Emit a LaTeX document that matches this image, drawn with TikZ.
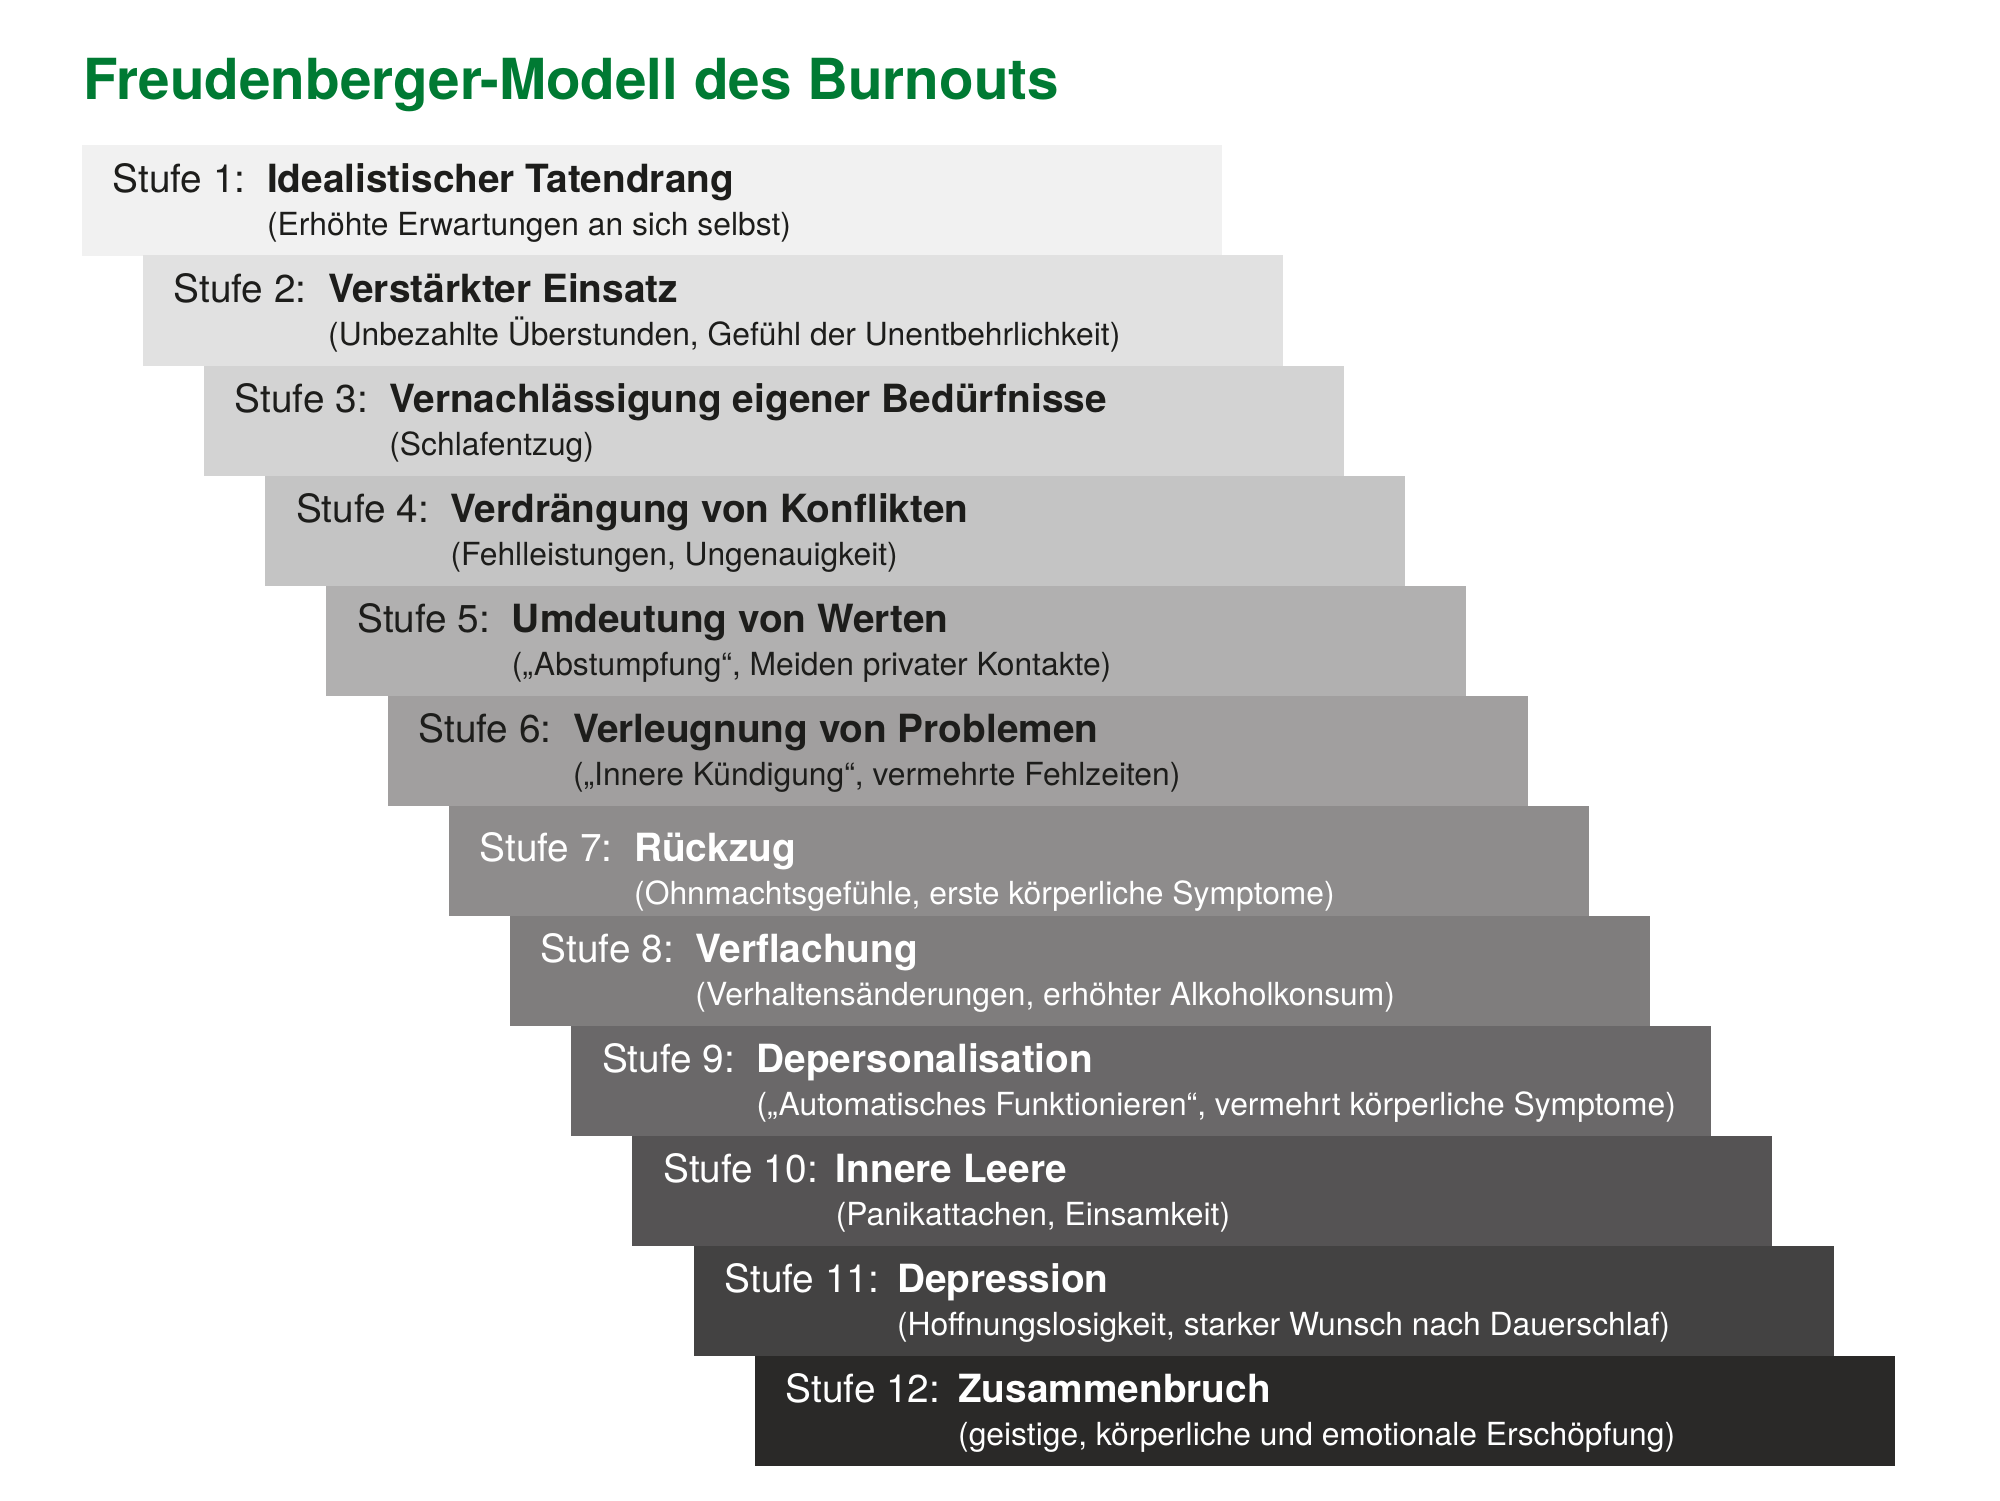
\documentclass[tikz,border=0pt]{standalone}
\usepackage{fontspec}
\setmainfont{TeX Gyre Heros}
\definecolor{titlegreen}{HTML}{007A33}
\definecolor{darktext}{HTML}{1D1D1B}
\definecolor{g1}{HTML}{F1F1F1}
\definecolor{g2}{HTML}{E1E1E1}
\definecolor{g3}{HTML}{D3D3D3}
\definecolor{g4}{HTML}{C4C4C4}
\definecolor{g5}{HTML}{B1B0B0}
\definecolor{g6}{HTML}{A19F9F}
\definecolor{g7}{HTML}{8E8C8C}
\definecolor{g8}{HTML}{7F7D7D}
\definecolor{g9}{HTML}{6A6869}
\definecolor{g10}{HTML}{555354}
\definecolor{g11}{HTML}{434242}
\definecolor{g12}{HTML}{2A2928}
\newcommand\mkstufe[7]{%
  \pgfmathsetmacro\Lx{81.6+61.2*(#1-1)}%
  \pgfmathsetmacro\Ty{145.4+110.05*(#1-1)}%
  \node[stufebox, fill=#2] (s#1) at (\Lx,\Ty) {};
  \node[stufelab, text=#3] (n#1) at (\Lx+30.5,\Ty+47+#5) {Stufe #1:};
  \node[stufelab, text=#3, font=\fontsize{19.4}{22}\selectfont\bfseries] (t#1) at (\Lx+#4,\Ty+47+#5) {#6};
  \node[stufesub, text=#3] (u#1) at (\Lx+#4,\Ty+90+#5) {#7};
}
\begin{document}
\begin{tikzpicture}[x=0.5pt,y=-0.5pt,
  stufebox/.style={anchor=north west, minimum width=570pt, minimum height=55.2pt, inner sep=0pt, outer sep=0pt, draw=none},
  stufelab/.style={anchor=base west, inner sep=0pt, font=\fontsize{19.4}{22}\selectfont},
  stufesub/.style={anchor=base west, inner sep=0pt, font=\fontsize{15.9}{18}\selectfont}]
\useasboundingbox (0,0) rectangle (2000,1500);
\node[anchor=base west, inner sep=0pt, text=titlegreen, font=\fontsize{28.3}{32}\selectfont\bfseries] (title) at (83,99) {Freudenberger-Modell des Burnouts};
\mkstufe{1}{g1}{darktext}{185}{0}{Idealistischer Tatendrang}{(Erhöhte Erwartungen an sich selbst)}
\mkstufe{2}{g2}{darktext}{185}{0}{Verstärkter Einsatz}{(Unbezahlte Überstunden, Gefühl der Unentbehrlichkeit)}
\mkstufe{3}{g3}{darktext}{185}{0}{Vernachlässigung eigener Bedürfnisse}{(Schlafentzug)}
\mkstufe{4}{g4}{darktext}{185}{0}{Verdrängung von Konflikten}{(Fehlleistungen, Ungenauigkeit)}
\mkstufe{5}{g5}{darktext}{185}{0}{Umdeutung von Werten}{(„Abstumpfung“, Meiden privater Kontakte)}
\mkstufe{6}{g6}{darktext}{185}{0}{Verleugnung von Problemen}{(„Innere Kündigung“, vermehrte Fehlzeiten)}
\mkstufe{7}{g7}{white}{185}{9}{Rückzug}{(Ohnmachtsgefühle, erste körperliche Symptome)}
\mkstufe{8}{g8}{white}{185}{0}{Verflachung}{(Verhaltensänderungen, erhöhter Alkoholkonsum)}
\mkstufe{9}{g9}{white}{185}{0}{Depersonalisation}{(„Automatisches Funktionieren“, vermehrt körperliche Symptome)}
\mkstufe{10}{g10}{white}{203}{0}{Innere Leere}{(Panikattachen, Einsamkeit)}
\mkstufe{11}{g11}{white}{203}{0}{Depression}{(Hoffnungslosigkeit, starker Wunsch nach Dauerschlaf)}
\mkstufe{12}{g12}{white}{203}{0}{Zusammenbruch}{(geistige, körperliche und emotionale Erschöpfung)}
\end{tikzpicture}
\end{document}
